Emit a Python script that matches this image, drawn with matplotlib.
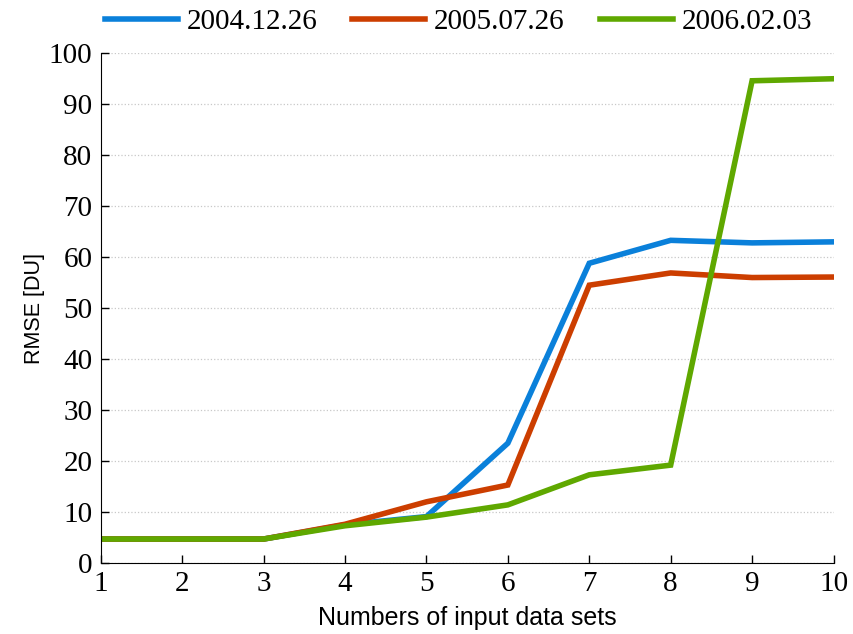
import matplotlib.pyplot as plt
import numpy as np

# number of input data sets
n_sets = [1, 2, 3, 4, 5, 6, 7, 8, 9, 10]

# RMSE [DU] for each date
rmse_2004 = [4.7, 4.7, 4.7, 7.5, 9.1, 23.5, 58.8, 63.3, 62.8, 63.0]
rmse_2005 = [4.7, 4.7, 4.7, 7.6, 12.0, 15.3, 54.5, 56.9, 56.0, 56.1]
rmse_2006 = [4.7, 4.7, 4.7, 7.3, 9.0, 11.4, 17.3, 19.2, 94.6, 95.0]

labels = ['2004.12.26', '2005.07.26', '2006.02.03']
colors = ['#0a80da', '#cc3e00', '#5fa800']

fig = plt.figure(figsize=(8.54, 6.34), dpi=100)
ax = fig.add_axes([0.118, 0.112, 0.858, 0.804])

for vals, lab, c in zip([rmse_2004, rmse_2005, rmse_2006], labels, colors):
    ax.plot(n_sets, vals, color=c, lw=4.0, label=lab, solid_joinstyle='miter')

ax.set_xlim(1, 10)
ax.set_ylim(0, 100)
ax.set_xticks(n_sets)
ax.set_yticks(np.arange(0, 101, 10))

serif = 'Liberation Serif'
for t in ax.get_xticklabels() + ax.get_yticklabels():
    t.set_family(serif)
    t.set_fontsize(21)

ax.tick_params(direction='in', length=6, width=1, pad=6)
ax.spines['top'].set_visible(False)
ax.spines['right'].set_visible(False)
ax.yaxis.grid(True, linestyle=':', color='#c8c8c8', lw=0.9)
ax.set_axisbelow(True)

ax.set_xlabel('Numbers of input data sets', family='Liberation Sans', fontsize=18, labelpad=6)
ax.set_ylabel('RMSE [DU]', family='Liberation Sans', fontsize=15.5, labelpad=3)

ax.legend(loc='lower center', bbox_to_anchor=(0.488, 1.012), ncol=3, frameon=False,
          prop={'family': serif, 'size': 21}, handlelength=2.5, columnspacing=1.2,
          handletextpad=0.3, borderaxespad=0)

fig.savefig('out.png', dpi=100)
